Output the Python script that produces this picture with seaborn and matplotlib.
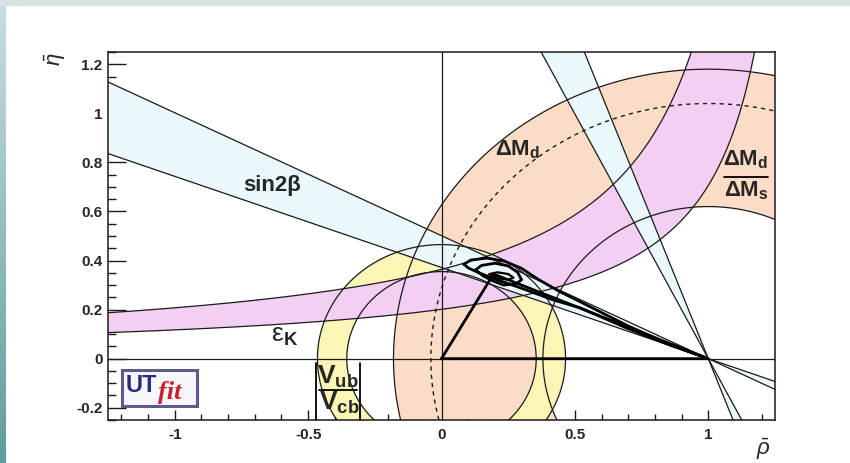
import numpy as np
import matplotlib
matplotlib.use("Agg")
import matplotlib.pyplot as plt
import seaborn as sns
from matplotlib.path import Path
from matplotlib.patches import PathPatch, Rectangle, FancyBboxPatch

# ---------------- data ----------------
rho_lim = [-1.25, 1.25]
eta_lim = [-0.25, 1.25]
x_ticks = [-1, -0.5, 0, 0.5, 1]
x_tick_labels = ["-1", "-0.5", "0", "0.5", "1"]
y_ticks = [-0.2, 0, 0.2, 0.4, 0.6, 0.8, 1, 1.2]
y_tick_labels = ["-0.2", "0", "0.2", "0.4", "0.6", "0.8", "1", "1.2"]

sin2b_tan = [0.3716, 0.5013]          # tan(beta) of the two band edges (lines through (1,0))
dmd_radii = [0.62, 1.18]              # DeltaMd and DeltaMd/DeltaMs annulus around (1,0)
dms_radius = 1.04                     # dashed circle
vub_radii = [0.355, 0.465]            # |Vub/Vcb| annulus around (0,0)
epsk_c = [0.281, 0.481]               # eps_K hyperbola edges: eta = c / (rho0 - rho)
epsk_rho0 = [1.398, 1.321]
apex = [0.195, 0.345]                 # fitted apex of the triangle

outer_rho = [0.084, 0.11, 0.17, 0.235, 0.30, 0.36, 0.44, 0.52, 0.70, 0.85, 0.985,
             0.85, 0.70, 0.52, 0.42, 0.30, 0.20, 0.14, 0.10, 0.084]
outer_eta = [0.385, 0.402, 0.410, 0.398, 0.368, 0.325, 0.275, 0.232, 0.133, 0.060, 0.006,
             0.058, 0.122, 0.207, 0.239, 0.287, 0.325, 0.350, 0.370, 0.385]
inner_rho = [0.128, 0.15, 0.20, 0.25, 0.285, 0.30, 0.28, 0.233, 0.19, 0.155, 0.128]
inner_eta = [0.362, 0.380, 0.389, 0.378, 0.352, 0.322, 0.305, 0.300, 0.318, 0.338, 0.362]
core_rho = [0.18, 0.21, 0.25, 0.27, 0.25, 0.21, 0.18]
core_eta = [0.345, 0.352, 0.345, 0.330, 0.322, 0.328, 0.345]

c_orange = "#fbdcc6"
c_yellow = "#fcf6b6"
c_pink = "#f3d0f3"
c_blue = "#eaf8fc"

# ---------------- style ----------------
sns.set_theme(style="white")
plt.rcParams["font.family"] = ["Liberation Sans", "DejaVu Sans"]
plt.rcParams["mathtext.fontset"] = "custom"
plt.rcParams["mathtext.rm"] = "Liberation Sans"
plt.rcParams["mathtext.bf"] = "Liberation Sans:bold"
plt.rcParams["mathtext.it"] = "Liberation Sans:italic"

W, H = 850, 463
fig = plt.figure(figsize=(W / 100, H / 100), dpi=100)
fig.patch.set_facecolor("white")

# slide background strips
bg = fig.add_axes([0, 0, 6 / W, 1])
bg.imshow(np.linspace(0, 1, 100).reshape(-1, 1), cmap=matplotlib.colors.LinearSegmentedColormap.from_list(
    "t", ["#c9dede", "#5f9e9e"]), aspect="auto", extent=[0, 1, 0, 1], origin="upper")
bg.axis("off")
fig.patches.append(Rectangle((0, 1 - 5 / H), 1, 5 / H, transform=fig.transFigure,
                             color="#d5e3e3", zorder=0))

L, R, T, B = 108, 775, 52, 420
ax = fig.add_axes([L / W, 1 - B / H, (R - L) / W, (B - T) / H])
ax.set_xlim(rho_lim)
ax.set_ylim(eta_lim)
ax.set_facecolor("white")


def circle(cx, cy, r, n=720):
    t = np.linspace(0, 2 * np.pi, n)
    return cx + r * np.cos(t), cy + r * np.sin(t)


def annulus(cx, r_in, r_out, color, z):
    xo, yo = circle(cx, 0, r_out)
    xi, yi = circle(cx, 0, r_in)
    verts = np.concatenate([np.c_[xo, yo], np.c_[xi[::-1], yi[::-1]]])
    codes = np.full(len(verts), Path.LINETO)
    codes[0] = Path.MOVETO
    codes[len(xo)] = Path.MOVETO
    ax.add_patch(PathPatch(Path(verts, codes), facecolor=color, edgecolor="none", zorder=z))


def px(xp, yp):
    """pixel position in the figure -> data coordinates of ax (for label placement)"""
    return (rho_lim[0] + (xp - L) / (R - L) * (rho_lim[1] - rho_lim[0]),
            eta_lim[1] - (yp - T) / (B - T) * (eta_lim[1] - eta_lim[0]))


lw_thin = 0.9
lc = "#1a1a1a"

# DeltaMd / DeltaMs annulus
annulus(1.0, dmd_radii[0], dmd_radii[1], c_orange, 1)
# |Vub/Vcb| annulus
annulus(0.0, vub_radii[0], vub_radii[1], c_yellow, 2)
# eps_K band
xr = np.linspace(rho_lim[0], rho_lim[1], 600)
lo = epsk_c[0] / (epsk_rho0[0] - xr)
hi = epsk_c[1] / (epsk_rho0[1] - xr)
ax.fill_between(xr, lo, hi, color=c_pink, lw=0, zorder=3)
# sin2beta bands (two solutions)
ax.fill_between(xr, sin2b_tan[0] * (1 - xr), sin2b_tan[1] * (1 - xr), color=c_blue, lw=0, zorder=4)
ye = np.linspace(eta_lim[0], eta_lim[1], 200)
ax.fill_betweenx(ye, 1 - ye * sin2b_tan[0], 1 - ye * sin2b_tan[1], color=c_blue, lw=0, zorder=4)

# boundaries
for r in dmd_radii:
    x, y = circle(1.0, 0, r)
    sns.lineplot(x=x, y=y, sort=False, estimator=None, color=lc, lw=lw_thin, ax=ax, zorder=5)
for r in vub_radii:
    x, y = circle(0.0, 0, r)
    sns.lineplot(x=x, y=y, sort=False, estimator=None, color=lc, lw=lw_thin, ax=ax, zorder=5)
sns.lineplot(x=xr, y=lo, sort=False, estimator=None, color=lc, lw=lw_thin, ax=ax, zorder=5)
sns.lineplot(x=xr, y=hi, sort=False, estimator=None, color=lc, lw=lw_thin, ax=ax, zorder=5)
for tb in sin2b_tan:
    ax.plot(xr, tb * (1 - xr), color=lc, lw=lw_thin, zorder=5)
    ax.plot(1 - ye * tb, ye, color=lc, lw=lw_thin, zorder=5)
xd, yd = circle(1.0, 0, dms_radius)
ax.plot(xd, yd, color=lc, lw=1.0, ls=(0, (3, 3)), zorder=5)

# axes lines at rho=0 and eta=0
ax.axhline(0, color=lc, lw=lw_thin, zorder=5)
ax.axvline(0, color=lc, lw=lw_thin, zorder=5)

# fit contours
ax.plot(outer_rho, outer_eta, color="black", lw=2.0, zorder=6, solid_joinstyle="round")
ax.plot(inner_rho, inner_eta, color="black", lw=2.0, zorder=6, solid_joinstyle="round")
ax.plot(core_rho, core_eta, color="black", lw=1.6, zorder=6)

# triangle
ax.plot([0, apex[0], 1, 0], [0, apex[1], 0, 0], color="black", lw=2.0, zorder=7,
        solid_joinstyle="round")

# ticks
ax.set_xticks(x_ticks)
ax.set_xticklabels(x_tick_labels)
ax.set_yticks(y_ticks)
ax.set_yticklabels(y_tick_labels)
ax.set_xticks(np.arange(-1.2, 1.25, 0.1), minor=True)
ax.set_yticks(np.arange(-0.25, 1.26, 0.05), minor=True)
ax.tick_params(axis="y", which="major", direction="in", length=13, width=1.0, color=lc,
               labelsize=11, pad=4, left=True)
ax.tick_params(axis="y", which="minor", direction="in", length=6, width=1.0, color=lc, left=True)
ax.tick_params(axis="x", which="major", direction="in", length=7.5, width=1.0, color=lc,
               labelsize=11, pad=6, bottom=True)
ax.tick_params(axis="x", which="minor", direction="in", length=4, width=1.0, color=lc, bottom=True)
for lab in ax.get_xticklabels() + ax.get_yticklabels():
    lab.set_fontweight("bold")
for s in ax.spines.values():
    s.set_color(lc)
    s.set_linewidth(1.1)
    s.set_zorder(10)

# axis titles
fig.text(55 / W, 1 - 59 / H, r"$\bar{\eta}$", rotation=90, fontsize=16, ha="center", va="center")
fig.text(763 / W, 1 - 449 / H, r"$\bar{\rho}$", fontsize=16, ha="center", va="center")

# band labels
ax.text(*px(272, 186), "sin2β", fontsize=16, fontweight="bold", ha="center", va="center", zorder=8)
ax.text(*px(495, 150), r"$\mathbf{ΔM}_\mathbf{d}$", fontsize=16, ha="left", va="center", zorder=8)
ax.text(*px(271, 336), r"$\mathrm{ε}_\mathbf{K}$", fontsize=19, ha="left", va="center", zorder=8)

# DeltaMd / DeltaMs fraction
ax.text(*px(746, 160), r"$\mathbf{ΔM}_\mathbf{d}$", fontsize=16, ha="center", va="center", zorder=8)
ax.text(*px(746, 191), r"$\mathbf{ΔM}_\mathbf{s}$", fontsize=16, ha="center", va="center", zorder=8)
fx0, fy = px(724, 177)
fx1, _ = px(768, 177)
ax.plot([fx0, fx1], [fy, fy], color="black", lw=1.3, zorder=8)

# |Vub / Vcb| fraction
ax.text(*px(338, 377), r"$\mathbf{V}_\mathbf{ub}$", fontsize=19, ha="center", va="center", zorder=8)
ax.text(*px(339, 403), r"$\mathbf{V}_\mathbf{cb}$", fontsize=19, ha="center", va="center", zorder=8)
vx0, vy = px(319, 390)
vx1, _ = px(357, 390)
ax.plot([vx0, vx1], [vy, vy], color="black", lw=1.3, zorder=8)
for xb in [316, 360]:
    bx, by0 = px(xb, 363)
    ax.plot([bx, bx], [by0, eta_lim[0]], color="black", lw=1.3, zorder=8, clip_on=False)

# UTfit logo
shadow = FancyBboxPatch((124 / W, 1 - 408 / H), 75 / W, 36 / H, boxstyle="square,pad=0",
                        transform=fig.transFigure, facecolor="#c9c9dc", edgecolor="none", zorder=19)
fig.patches.append(shadow)
box = FancyBboxPatch((122 / W, 1 - 406 / H), 75 / W, 36 / H, boxstyle="square,pad=0",
                     transform=fig.transFigure, facecolor="#f6f6fb", edgecolor="#5c5c86",
                     linewidth=2.2, zorder=20)
fig.patches.append(box)
fig.text(126 / W, 1 - 386 / H, "UT", fontsize=17, fontweight="bold", color="#2b2b7e",
         ha="left", va="center", zorder=21)
fig.text(158 / W, 1 - 392 / H, "fit", fontsize=19, fontstyle="italic", fontweight="bold",
         color="#c8202e", family=["Liberation Serif", "DejaVu Serif"], ha="left", va="center",
         zorder=21)

fig.savefig("out.png", dpi=100)
